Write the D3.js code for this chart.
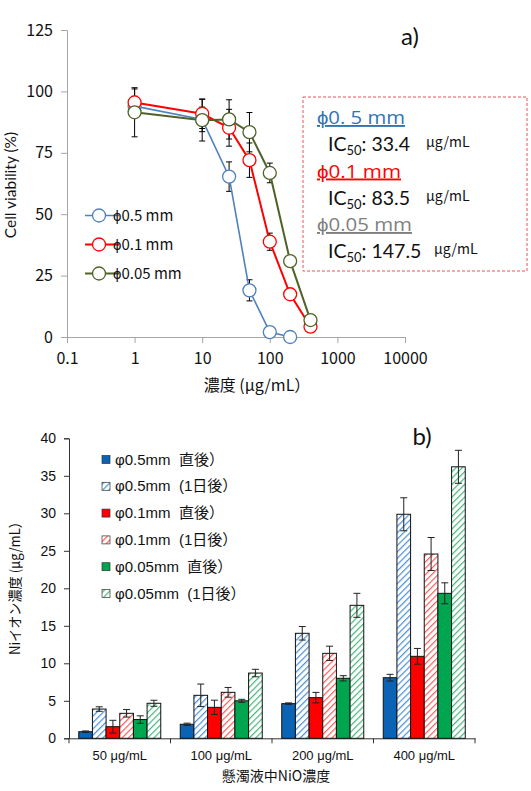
<!DOCTYPE html>
<html><head><meta charset="utf-8">
<script src="https://cdn.jsdelivr.net/npm/d3@7"></script>
<style>body{margin:0;background:#fff}svg{display:block}</style>
</head><body>
<svg id="c" width="531" height="791"></svg>
<script>
// ---------- Chart a) data ----------
const concA = [1, 10, 25, 50, 100, 200, 400];
const seriesANames = ["ϕ0.5 mm", "ϕ0.1 mm", "ϕ0.05 mm"];
const via05 = [94.0, 88.6, 65.3, 19.0, 2.0, 0.0];
const via01 = [95.5, 90.9, 85.2, 72.0, 38.8, 17.4, 4.2];
const via005 = [91.5, 88.3, 88.6, 83.4, 66.8, 30.9, 6.9];
const err05 = [4, 5, 6, 4.3, 1, 0.3];
const err01 = [5.5, 6, 7.5, 7, 3.5, 2, 1];
const err005 = [10, 8.5, 8, 8, 4, 2, 2];
const xTicksA = [0.1, 1, 10, 100, 1000, 10000];
const yTicksA = [0, 25, 50, 75, 100, 125];
const ic50Names = ["ϕ0. 5 mm", "ϕ0.1 mm", "ϕ0.05 mm"];
const ic50Values = ["33.4", "83.5", "147.5"];

// ---------- Chart b) data ----------
const groupsB = ["50 μg/mL", "100 μg/mL", "200 μg/mL", "400 μg/mL"];
const seriesBNames = ["φ0.5mm\u00a0\u00a0直後）", "φ0.5mm\u00a0\u00a0(1日後）", "φ0.1mm\u00a0\u00a0直後）", "φ0.1mm\u00a0\u00a0(1日後）", "φ0.05mm\u00a0\u00a0直後）", "φ0.05mm\u00a0\u00a0(1日後）"];
const b05_0 = [0.88, 1.87, 4.62, 8.08];
const b05_1 = [3.9, 5.73, 14.0, 29.87];
const b01_0 = [1.55, 4.13, 5.42, 10.93];
const b01_1 = [3.33, 6.13, 11.33, 24.57];
const b005_0 = [2.5, 5.0, 8.0, 19.33];
const b005_1 = [4.67, 8.7, 17.73, 36.2];
const e05_0 = [0.1, 0.15, 0.1, 0.45];
const e05_1 = [0.3, 1.5, 0.9, 2.2];
const e01_0 = [0.85, 0.95, 0.7, 1.05];
const e01_1 = [0.5, 0.65, 0.95, 2.2];
const e005_0 = [0.5, 0.2, 0.35, 1.4];
const e005_1 = [0.4, 0.5, 1.6, 2.2];
const yTicksB = [0, 5, 10, 15, 20, 25, 30, 35, 40];

const svg = d3.select("#c");

// ================= Chart a =================
const xA = d3.scaleLog().domain([0.1, 10000]).range([67, 405]);
const yA = d3.scaleLinear().domain([0, 125]).range([337, 30]);
const gA = svg.append("g");
const axisColor = "#a6a6a6";
const tickFontA = "'Noto Sans CJK JP', sans-serif";

const yAxisA = gA.append("g").attr("transform", "translate(67,0)")
  .call(d3.axisLeft(yA).tickValues(yTicksA).tickSize(6).tickPadding(8).tickFormat(d3.format("d")));
const xAxisA = gA.append("g").attr("transform", "translate(0,337)")
  .call(d3.axisBottom(xA).tickValues(xTicksA).tickSize(6).tickPadding(10).tickFormat(d => String(d)));
[yAxisA, xAxisA].forEach(ax => {
  ax.select(".domain").attr("stroke", axisColor);
  ax.selectAll(".tick line").attr("stroke", axisColor);
  ax.selectAll("text").attr("font-family", tickFontA).attr("font-size", 16).attr("fill", "#111");
});

gA.append("text").attr("transform", "translate(16,185) rotate(-90)")
  .attr("text-anchor", "middle").attr("font-family", "Lato, 'Open Sans', sans-serif")
  .attr("font-size", 15.5).attr("fill", "#111").text("Cell viability (%)");
gA.append("text").attr("x", 257).attr("y", 391).attr("text-anchor", "middle")
  .attr("font-family", tickFontA).attr("font-size", 16).attr("fill", "#111").text("濃度 (μg/mL）");
gA.append("text").attr("x", 410).attr("y", 45).attr("text-anchor", "middle")
  .attr("font-family", "Lato, 'Open Sans', sans-serif").attr("font-size", 24).attr("fill", "#111").text("a)");

const seriesA = [
  {name: seriesANames[0], vals: via05, errs: err05, color: "#4F81BD", lw: 1.6},
  {name: seriesANames[1], vals: via01, errs: err01, color: "#FF0000", lw: 2},
  {name: seriesANames[2], vals: via005, errs: err005, color: "#4F6228", lw: 2}
];
seriesA.forEach(s => { s.pts = s.vals.map((v, i) => ({x: concA[i], y: v, e: s.errs[i]})); });

// error bars
seriesA.forEach(s => {
  const eg = gA.append("g").attr("stroke", "#000").attr("stroke-width", 1);
  s.pts.forEach(p => {
    const cx = xA(p.x), t = yA(p.y + p.e), b = yA(p.y - p.e);
    eg.append("line").attr("x1", cx).attr("x2", cx).attr("y1", t).attr("y2", b);
    eg.append("line").attr("x1", cx - 3).attr("x2", cx + 3).attr("y1", t).attr("y2", t);
    eg.append("line").attr("x1", cx - 3).attr("x2", cx + 3).attr("y1", b).attr("y2", b);
  });
});
const line = d3.line().x(d => xA(d.x)).y(d => yA(d.y));
seriesA.forEach(s => {
  gA.append("path").datum(s.pts).attr("d", line).attr("fill", "none")
    .attr("stroke", s.color).attr("stroke-width", s.lw);
  gA.append("g").selectAll("circle").data(s.pts).join("circle")
    .attr("cx", d => xA(d.x)).attr("cy", d => yA(d.y)).attr("r", 6.5)
    .attr("fill", "#fff").attr("stroke", s.color).attr("stroke-width", 1.3);
});

// legend a
const legA = gA.append("g");
seriesA.forEach((s, i) => {
  const y = 215.5 + i * 29;
  legA.append("line").attr("x1", 85).attr("x2", 119).attr("y1", y).attr("y2", y)
    .attr("stroke", s.color).attr("stroke-width", s.lw);
  legA.append("circle").attr("cx", 99).attr("cy", y).attr("r", 6.5)
    .attr("fill", "#fff").attr("stroke", s.color).attr("stroke-width", 1.3);
  legA.append("text").attr("x", 113).attr("y", y + 5.5).attr("font-family", tickFontA)
    .attr("font-size", 15).attr("fill", "#111").text(s.name);
});

// IC50 box
gA.append("rect").attr("x", 303).attr("y", 97).attr("width", 224).attr("height", 174)
  .attr("fill", "none").attr("stroke", "#E8555A").attr("stroke-width", 1).attr("stroke-dasharray", "3,2");
const icColors = ["#2E75B6", "#FF0000", "#7F7F7F"];
const icFont = "Lato, 'Open Sans', sans-serif";
const icNameW = [88, 84, 95];
ic50Names.forEach((n, i) => {
  const y0 = 124 + i * 53.5;
  gA.append("text").attr("x", 317).attr("y", y0).attr("font-family", "'Open Sans', sans-serif").attr("font-size", 19)
    .attr("textLength", icNameW[i]).attr("lengthAdjust", "spacingAndGlyphs")
    .attr("fill", icColors[i]).attr("text-decoration", "underline").text(n);
  const t = gA.append("text").attr("x", 328).attr("y", y0 + 27).attr("font-family", icFont)
    .attr("font-size", 19.5).attr("fill", "#111");
  t.append("tspan").text("IC");
  t.append("tspan").attr("font-size", 13).attr("dy", 4).text("50");
  t.append("tspan").attr("dy", -4).text(": " + ic50Values[i]);
  gA.append("text").attr("x", i === 2 ? 434 : 426).attr("y", y0 + 23).attr("font-family", tickFontA)
    .attr("font-size", 14).attr("fill", "#111").text("μg/mL");
});

// ================= Chart b =================
const xB = d3.scaleBand().domain(groupsB).range([69, 475]).paddingInner(0).paddingOuter(0);
const xInner = d3.scaleBand().domain(d3.range(6)).range([9.75, 91.75]);
const yB = d3.scaleLinear().domain([0, 40]).range([738.3, 438.3]);
const gB = svg.append("g");
const arial = "'Liberation Sans', Arial, sans-serif";

const defs = svg.append("defs");
const hatch = [["hb", "#4A90D9"], ["hr", "#FF5A5A"], ["hg", "#45B87A"]];
hatch.forEach(([id, col]) => {
  const p = defs.append("pattern").attr("id", id).attr("patternUnits", "userSpaceOnUse")
    .attr("width", 4.5).attr("height", 4.5).attr("patternTransform", "rotate(45)");
  p.append("rect").attr("width", 4.5).attr("height", 4.5).attr("fill", "#fff");
  p.append("line").attr("x1", 0).attr("x2", 0).attr("y1", 0).attr("y2", 4.5)
    .attr("stroke", col).attr("stroke-width", 2.4);
});

const fillsB = ["#0B63B5", "url(#hb)", "#FF0000", "url(#hr)", "#00A550", "url(#hg)"];
const valsB = [b05_0, b05_1, b01_0, b01_1, b005_0, b005_1];
const errsB = [e05_0, e05_1, e01_0, e01_1, e005_0, e005_1];

const yAxisB = gB.append("g").attr("transform", "translate(69,0)")
  .call(d3.axisLeft(yB).tickValues(yTicksB).tickSize(5).tickPadding(8));
const xAxisB = gB.append("g").attr("transform", "translate(0,738.3)")
  .call(d3.axisBottom(xB).tickSize(0).tickPadding(12));
xAxisB.selectAll(".tick line").remove();
[69, 475].concat(groupsB.slice(1).map(g => xB(g))).forEach(x => {
  xAxisB.append("line").attr("x1", x).attr("x2", x).attr("y1", 0).attr("y2", 5).attr("stroke", "#333");
});
[yAxisB, xAxisB].forEach(ax => {
  ax.select(".domain").attr("stroke", "#333");
  ax.selectAll(".tick line").attr("stroke", "#333");
});
yAxisB.selectAll("text").attr("font-family", arial).attr("font-size", 14).attr("fill", "#111");
xAxisB.selectAll("text").attr("font-family", arial).attr("font-size", 13).attr("fill", "#111");

groupsB.forEach((g, gi) => {
  valsB.forEach((vals, si) => {
    const x = xB(g) + xInner(si), w = xInner.bandwidth();
    gB.append("rect").attr("x", x).attr("y", yB(vals[gi])).attr("width", w)
      .attr("height", yB(0) - yB(vals[gi])).attr("fill", fillsB[si])
      .attr("stroke", "#111").attr("stroke-width", 1);
  });
});
groupsB.forEach((g, gi) => {
  valsB.forEach((vals, si) => {
    const cx = xB(g) + xInner(si) + xInner.bandwidth() / 2;
    const t = yB(vals[gi] + errsB[si][gi]), b = yB(vals[gi] - errsB[si][gi]);
    const eg = gB.append("g").attr("stroke", "#222").attr("stroke-width", 1);
    eg.append("line").attr("x1", cx).attr("x2", cx).attr("y1", t).attr("y2", b);
    eg.append("line").attr("x1", cx - 3.5).attr("x2", cx + 3.5).attr("y1", t).attr("y2", t);
    eg.append("line").attr("x1", cx - 3.5).attr("x2", cx + 3.5).attr("y1", b).attr("y2", b);
  });
});

gB.append("text").attr("transform", "translate(20,585) rotate(-90)").attr("text-anchor", "middle")
  .attr("font-family", "'Noto Sans CJK JP', sans-serif").attr("font-size", 14).attr("fill", "#111")
  .attr("textLength", 140).attr("lengthAdjust", "spacingAndGlyphs")
  .text("Niイオン濃度 (μg/mL）");
gB.append("text").attr("x", 276).attr("y", 781).attr("text-anchor", "middle")
  .attr("font-family", "'Noto Sans CJK JP', sans-serif").attr("font-size", 14).attr("fill", "#111")
  .text("懸濁液中NiO濃度");
gB.append("text").attr("x", 422).attr("y", 445).attr("text-anchor", "middle")
  .attr("font-family", "Lato, 'Open Sans', sans-serif").attr("font-size", 24).attr("fill", "#111").text("b)");

// legend b
seriesBNames.forEach((n, i) => {
  const y = 459.5 + i * 26.8;
  gB.append("rect").attr("x", 102).attr("y", y - 4).attr("width", 8).attr("height", 8)
    .attr("fill", fillsB[i]).attr("stroke", "#333").attr("stroke-width", 0.7);
  gB.append("text").attr("x", 115).attr("y", y + 5).attr("font-family", "'Liberation Sans', 'Noto Sans CJK JP', sans-serif")
    .attr("font-size", 15).attr("fill", "#111").text(n);
});
</script>
</body></html>
